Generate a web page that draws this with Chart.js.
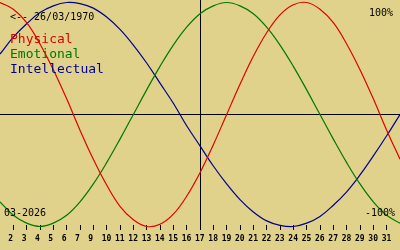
<!DOCTYPE html>
<html>
<head>
<meta charset="utf-8">
<script src="https://cdn.jsdelivr.net/npm/chart.js@4"></script>
<style>
  html, body { margin: 0; padding: 0; background: #e0d28a; }
  #wrap { position: relative; width: 400px; height: 250px; background: #e0d28a; overflow: hidden; }
  #c { position: absolute; left: 0; top: 0; }
  .t { position: absolute; font-family: "DejaVu Sans Mono", monospace; line-height: 1; white-space: pre; color: #000; }
</style>
</head>
<body>
<div id="wrap">
  <canvas id="c" width="400" height="250"></canvas>
  <div class="t" style="left:10px;top:12px;font-size:10px">&lt;-- 26/03/1970</div>
  <div class="t" style="left:10px;top:32px;font-size:13px;color:#e00000">Physical</div>
  <div class="t" style="left:10px;top:47px;font-size:13px;color:#007800">Emotional</div>
  <div class="t" style="left:10px;top:62px;font-size:13px;color:#000090">Intellectual</div>
  <div class="t" style="right:7px;top:7.5px;font-size:10px">100%</div>
  <div class="t" style="right:5px;top:207.5px;font-size:10px">-100%</div>
  <div class="t" style="left:4px;top:207.5px;font-size:10px">03-2026</div>
</div>
<script>
// Day labels along the bottom (note: the reference skips "8")
const dayLabels = ['', '2', '3', '4', '5', '6', '7', '9', '10', '11', '12', '13', '14', '15', '16',
  '17', '18', '19', '20', '21', '22', '23', '24', '25', '26', '27', '28', '29', '30', '31', ''];
const todayLabel = '17';

const physical = [1.00, 0.94, 0.82, 0.63, 0.40, 0.14, -0.14, -0.40, -0.63, -0.82, -0.94, -1.00, -0.98, -0.89, -0.73, -0.52,
  -0.27, 0.00, 0.27, 0.52, 0.73, 0.89, 0.98, 1.00, 0.94, 0.82, 0.63, 0.40, 0.14, -0.14, -0.40];
const emotional = [-0.78, -0.90, -0.97, -1.00, -0.97, -0.90, -0.78, -0.62, -0.43, -0.22, 0.00, 0.22, 0.43, 0.62, 0.78, 0.90,
  0.97, 1.00, 0.97, 0.90, 0.78, 0.62, 0.43, 0.22, 0.00, -0.22, -0.43, -0.62, -0.78, -0.90, -0.97];
const intellectual = [0.54, 0.69, 0.81, 0.91, 0.97, 1.00, 0.99, 0.95, 0.87, 0.76, 0.62, 0.46, 0.28, 0.10, -0.10, -0.28,
  -0.46, -0.62, -0.76, -0.87, -0.95, -0.99, -1.00, -0.97, -0.91, -0.81, -0.69, -0.54, -0.37, -0.19, 0.00];

const lastIndex = dayLabels.length - 1;

new Chart(document.getElementById('c'), {
  type: 'line',
  data: {
    labels: dayLabels,
    datasets: [
      { label: 'Physical', data: physical, borderColor: '#e00000' },
      { label: 'Emotional', data: emotional, borderColor: '#007800' },
      { label: 'Intellectual', data: intellectual, borderColor: '#000090' }
    ].map(d => Object.assign(d, { borderWidth: 1.2, pointRadius: 0, tension: 0.4, fill: false, clip: false }))
  },
  options: {
    responsive: false,
    animation: false,
    events: [],
    layout: { padding: { left: 0, right: 0, top: 0, bottom: 2.4 } },
    plugins: { legend: { display: false }, tooltip: { enabled: false }, title: { display: false } },
    scales: {
      x: {
        type: 'category',
        offset: false,
        border: { display: false },
        grid: {
          drawOnChartArea: true,
          drawTicks: true,
          tickLength: 5,
          lineWidth: 1,
          color: ctx => (ctx.tick && ctx.tick.label === todayLabel) ? '#000' : 'rgba(0,0,0,0)',
          tickColor: ctx => (ctx.index === 0 || ctx.index === lastIndex) ? 'rgba(0,0,0,0)' : '#000'
        },
        ticks: {
          autoSkip: false,
          maxRotation: 0,
          minRotation: 0,
          align: 'start',
          labelOffset: -5,
          padding: 4,
          color: '#000',
          font: { family: 'DejaVu Sans Mono', size: 8, weight: 'bold' }
        },
        afterFit: scale => { scale.paddingLeft = 0; scale.paddingRight = 0; }
      },
      y: {
        min: -0.9866,
        max: 1.0223,
        border: { display: false },
        grid: {
          drawTicks: false,
          lineWidth: 1,
          color: ctx => (ctx.tick && ctx.tick.value === 0) ? '#000' : 'rgba(0,0,0,0)'
        },
        ticks: { display: false },
        afterBuildTicks: scale => { scale.ticks = [{ value: 0 }]; }
      }
    }
  }
});
</script>
</body>
</html>
